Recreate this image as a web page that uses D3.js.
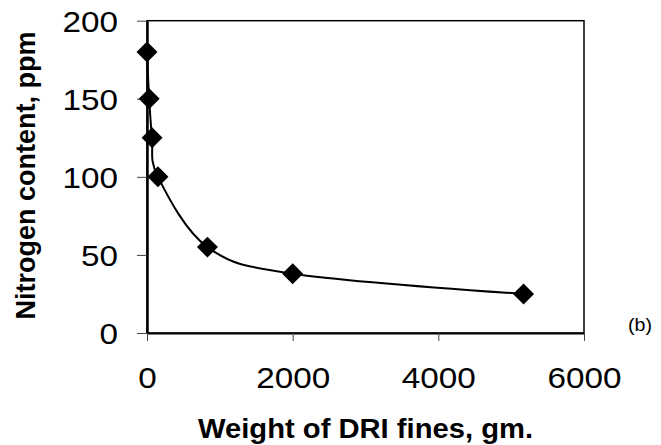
<!DOCTYPE html>
<html>
<head>
<meta charset="utf-8">
<script src="https://cdn.jsdelivr.net/npm/d3@7"></script>
<style>
  html, body { margin: 0; padding: 0; background: #fff; }
  svg { display: block; }
  text { font-family: "Liberation Sans", Arial, sans-serif; fill: #000; }
</style>
</head>
<body>
<script>
const weights = [0, 30, 70, 150, 830, 2000, 5170];
const nitrogen = [180, 150, 125, 100, 55, 38, 25];
const xTicks = [0, 2000, 4000, 6000];
const yTicks = [0, 50, 100, 150, 200];
const xTitle = "Weight of DRI fines, gm.";
const yTitle = "Nitrogen content, ppm";
const panelLabel = "(b)";

const W = 661, H = 445;
const m = { left: 147, right: 584, top: 20.7, bottom: 333 };
const digitW = 18.5;

const svg = d3.select("body").append("svg").attr("width", W).attr("height", H);

const x = d3.scaleLinear().domain([0, 6000]).range([m.left, m.right]);
const y = d3.scaleLinear().domain([0, 200]).range([m.bottom, m.top]);

// frame (top & right)
svg.append("rect")
  .attr("x", m.left).attr("y", m.top)
  .attr("width", m.right - m.left).attr("height", m.bottom - m.top)
  .attr("fill", "none").attr("stroke", "#000").attr("stroke-width", 1.5);

// y axis
const yAxis = svg.append("g").attr("transform", `translate(${m.left},0)`)
  .call(d3.axisLeft(y).tickValues(yTicks).tickFormat(d3.format("d")).tickSize(10).tickSizeOuter(0).tickPadding(19));
yAxis.select(".domain").attr("stroke", "#000").attr("stroke-width", 2.5);
yAxis.selectAll(".tick line").attr("stroke", "#444").attr("stroke-width", 1);
yAxis.selectAll(".tick text").attr("font-size", 29).attr("dy", "0.36em")
  .style("font-family", "Liberation Sans, Arial, sans-serif")
  .attr("textLength", d => String(d).length * digitW).attr("lengthAdjust", "spacingAndGlyphs");

// x axis
const xAxis = svg.append("g").attr("transform", `translate(0,${m.bottom})`)
  .call(d3.axisBottom(x).tickValues(xTicks).tickFormat(d3.format("d")).tickSize(8).tickSizeOuter(0).tickPadding(26));
xAxis.select(".domain").attr("stroke", "#000").attr("stroke-width", 2);
xAxis.selectAll(".tick line").attr("stroke", "#444").attr("stroke-width", 1);
xAxis.selectAll(".tick text").attr("font-size", 30)
  .style("font-family", "Liberation Sans, Arial, sans-serif")
  .attr("textLength", d => String(d).length * digitW).attr("lengthAdjust", "spacingAndGlyphs");

const data = weights.map((w, i) => ({ w, n: nitrogen[i] }));

// line
const line = d3.line().x(d => x(d.w)).y(d => y(d.n)).curve(d3.curveCardinal.tension(0));
svg.append("path").datum(data).attr("d", line)
  .attr("fill", "none").attr("stroke", "#000").attr("stroke-width", 2);

// diamonds
svg.append("g").selectAll("path").data(data).join("path")
  .attr("d", d3.symbol().type(d3.symbolSquare).size(220))
  .attr("transform", d => `translate(${x(d.w)},${y(d.n)}) rotate(45)`)
  .attr("fill", "#000");

// titles
svg.append("text").attr("x", 365.5).attr("y", 438).attr("text-anchor", "middle")
  .attr("font-size", 27).attr("font-weight", "bold")
  .attr("textLength", 335).attr("lengthAdjust", "spacingAndGlyphs").text(xTitle);
svg.append("text").attr("transform", "translate(35,175.5) rotate(-90)").attr("text-anchor", "middle")
  .attr("font-size", 27).attr("font-weight", "bold")
  .attr("textLength", 288).attr("lengthAdjust", "spacingAndGlyphs").text(yTitle);
svg.append("text").attr("x", 628).attr("y", 331).attr("font-size", 19)
  .attr("textLength", 24).attr("lengthAdjust", "spacingAndGlyphs").text(panelLabel);
</script>
</body>
</html>
